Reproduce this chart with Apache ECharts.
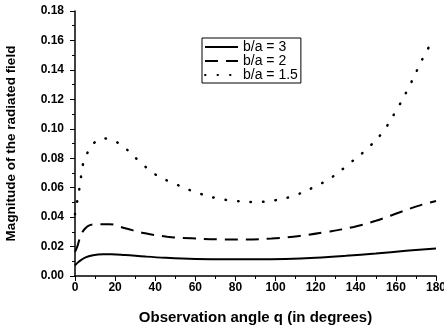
<!DOCTYPE html>
<html>
<head>
<meta charset="utf-8">
<script src="https://cdn.jsdelivr.net/npm/echarts@6/dist/echarts.min.js"></script>
<style>
  html, body { margin: 0; padding: 0; background: #fff; }
  #chart { width: 444px; height: 329px; }
</style>
</head>
<body>
<div id="chart"></div>
<script>
// angle (deg), value pairs
const ratio3 = [
  [0, 0.0072], [2, 0.0098], [5, 0.0125], [9, 0.0141], [14, 0.0147], [18, 0.0147],
  [25, 0.0142], [35, 0.0132], [45, 0.0124], [60, 0.0116], [75, 0.0113], [90, 0.0113],
  [105, 0.0116], [120, 0.0124], [135, 0.0137], [150, 0.0153], [165, 0.0171], [180, 0.0187]
];
const ratio2 = [
  [0, 0.0165], [1, 0.0195], [4, 0.0305], [9, 0.0350], [17, 0.0352], [25, 0.0324],
  [35, 0.0290], [46, 0.0267], [58, 0.0256], [71, 0.0249], [85, 0.0248], [98, 0.0255],
  [112, 0.0272], [125, 0.0298], [139, 0.0333], [150, 0.0375], [162, 0.0433], [172, 0.0480], [180, 0.0510]
];
const ratio15 = [
  [0, 0.042], [1, 0.050], [2.5, 0.062], [4, 0.076], [6, 0.083], [8.5, 0.089], [14, 0.0935],
  [19, 0.092], [24, 0.088], [32, 0.078], [40, 0.069], [50, 0.0625], [60, 0.057], [70, 0.053],
  [80, 0.051], [90, 0.0503], [100, 0.0515], [110, 0.055], [120, 0.061], [128, 0.067],
  [137, 0.0766], [145, 0.0856], [153, 0.097], [160, 0.112], [166, 0.127], [171, 0.141],
  [175, 0.152], [179, 0.161]
];
const seriesNames = ['b/a = 3', 'b/a = 2', 'b/a = 1.5'];

const chart = echarts.init(document.getElementById('chart'));

const font = 'Arial, "Liberation Sans", sans-serif';

chart.setOption({
  animation: false,
  backgroundColor: '#fff',
  textStyle: { fontFamily: font },
  grid: { left: 75, right: 8, top: 11, bottom: 53, containLabel: false, outerBoundsMode: 'none' },
  legend: {
    orient: 'vertical',
    left: 202,
    top: 38,
    padding: [2, 3, 1, 2],
    borderColor: '#000',
    borderWidth: 1,
    itemWidth: 33,
    itemHeight: 10,
    itemGap: 0,
    itemStyle: { color: 'transparent', borderWidth: 0 },
    textStyle: { fontFamily: font, fontSize: 14, lineHeight: 12.5, color: '#000' },
    data: seriesNames
  },
  xAxis: {
    type: 'value',
    min: 0,
    max: 180,
    interval: 20,
    name: 'Observation angle q (in degrees)',
    nameLocation: 'middle',
    nameGap: 34,
    nameTextStyle: { fontFamily: font, fontSize: 15, fontWeight: 'bold', color: '#000' },
    axisLine: { lineStyle: { color: '#000', width: 1.5 } },
    axisTick: { inside: false, length: 5, lineStyle: { color: '#000' } },
    minorTick: { show: true, splitNumber: 2, length: 3, lineStyle: { color: '#000' } },
    axisLabel: { fontFamily: font, fontSize: 12, fontWeight: 'bold', color: '#000', margin: 6 },
    splitLine: { show: false }
  },
  yAxis: {
    type: 'value',
    min: 0,
    max: 0.18,
    interval: 0.02,
    name: 'Magnitude of the radiated field',
    nameLocation: 'middle',
    nameGap: 57,
    nameTextStyle: { fontFamily: font, fontSize: 13.5, fontWeight: 'bold', color: '#000' },
    axisLine: { show: true, lineStyle: { color: '#000', width: 1.5 } },
    axisTick: { show: true, length: 5, lineStyle: { color: '#000' } },
    minorTick: { show: true, splitNumber: 2, length: 3, lineStyle: { color: '#000' } },
    axisLabel: {
      fontFamily: font, fontSize: 12, fontWeight: 'bold', color: '#000', margin: 11,
      formatter: v => v.toFixed(2)
    },
    splitLine: { show: false }
  },
  series: [
    {
      name: seriesNames[0], type: 'line', data: ratio3, smooth: 0.4, symbol: 'none',
      itemStyle: { color: '#000' },
      lineStyle: { color: '#000', width: 2 }
    },
    {
      name: seriesNames[1], type: 'line', data: ratio2, smooth: 0.4, symbol: 'none',
      itemStyle: { color: '#000' },
      lineStyle: { color: '#000', width: 2, type: [13, 8] }
    },
    {
      name: seriesNames[2], type: 'line', data: ratio15, smooth: 0.4, symbol: 'none',
      itemStyle: { color: '#000' },
      lineStyle: { color: '#000', width: 2.5, type: [0.5, 12], cap: 'round' }
    }
  ]
});
</script>
</body>
</html>
